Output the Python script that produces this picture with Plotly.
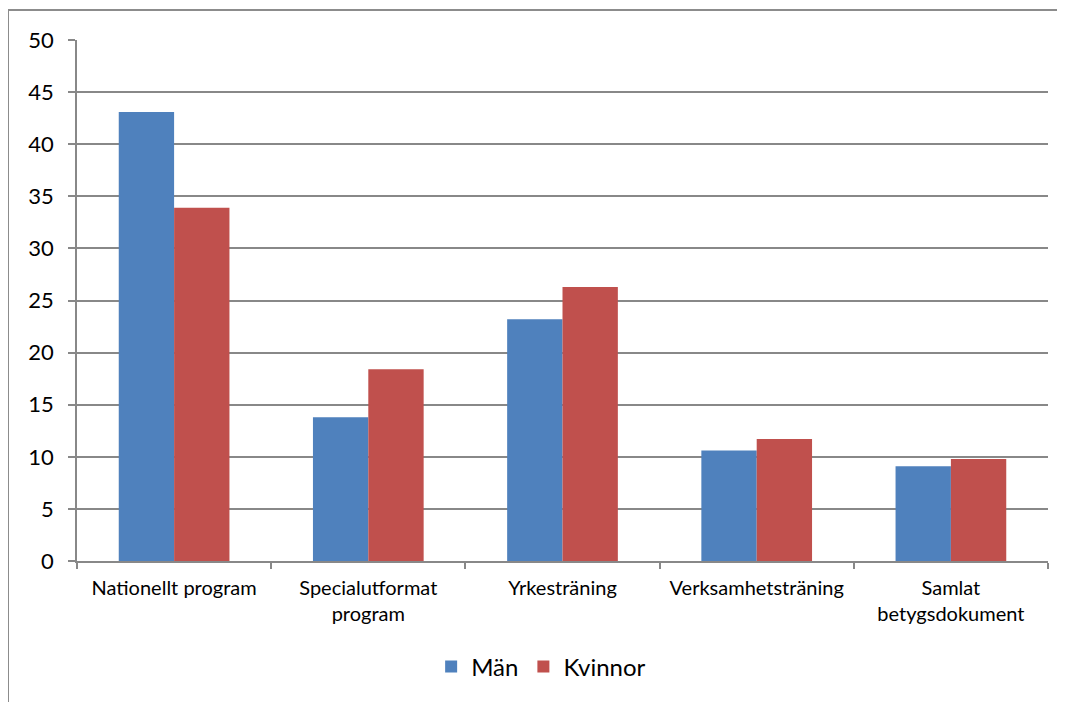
import plotly.graph_objects as go

categories = ["Nationellt program", "Specialutformat<br>program", "Yrkesträning",
              "Verksamhetsträning", "Samlat<br>betygsdokument"]
man = [43.1, 13.8, 23.2, 10.6, 9.1]
kvinnor = [33.9, 18.4, 26.3, 11.7, 9.8]
y_ticks = [0, 5, 10, 15, 20, 25, 30, 35, 40, 45, 50]

# page is offset by the 8px body margin
W, H = 1057, 694
L, R, T, B = 69, 1040, 32, 553

fig = go.Figure()
fig.add_trace(go.Bar(name="Män", x=categories, y=man, marker=dict(color="#4F81BD", line=dict(width=0))))
fig.add_trace(go.Bar(name="Kvinnor", x=categories, y=kvinnor, marker=dict(color="#C0504D", line=dict(width=0))))

font = "Lato, Open Sans, sans-serif"
grid = "#888888"
fig.update_layout(
    width=W, height=H,
    margin=dict(l=L, r=W - R, t=T, b=H - B, pad=0),
    paper_bgcolor="white", plot_bgcolor="white",
    barmode="group", bargap=0.43, bargroupgap=0,
    font=dict(family=font, color="#000000"),
    showlegend=True,
    legend=dict(orientation="h", x=0.478, xanchor="center", y=-0.2035, yanchor="middle",
                font=dict(size=24, family=font), itemsizing="constant",
                traceorder="normal", itemwidth=30),
)
fig.update_xaxes(
    showline=True, linecolor=grid, linewidth=1.5,
    ticks="outside", tickson="boundaries", ticklen=6, tickcolor=grid, tickwidth=1.5,
    tickfont=dict(size=20, family=font), showgrid=False, ticklabelstandoff=8,
)
fig.update_yaxes(
    range=[0, 50], tickvals=y_ticks,
    showline=True, linecolor=grid, linewidth=1.5,
    ticks="outside", ticklen=7, tickcolor=grid, tickwidth=1.5,
    showgrid=True, gridcolor=grid, gridwidth=1.5,
    tickfont=dict(size=22, family=font), ticklabelstandoff=10,
    zeroline=False,
)
# outer chart-area border (partially visible)
ph = B - T
pw = R - L
fig.add_shape(type="rect", xref="paper", yref="paper",
              x0=(0 - L) / pw, x1=(W + 20 - L) / pw,
              y0=(B - (H + 20)) / ph, y1=(B - 2) / ph,
              line=dict(color="#8c8c8c", width=2), fillcolor="rgba(0,0,0,0)", layer="below")

fig.write_html("out.html")
